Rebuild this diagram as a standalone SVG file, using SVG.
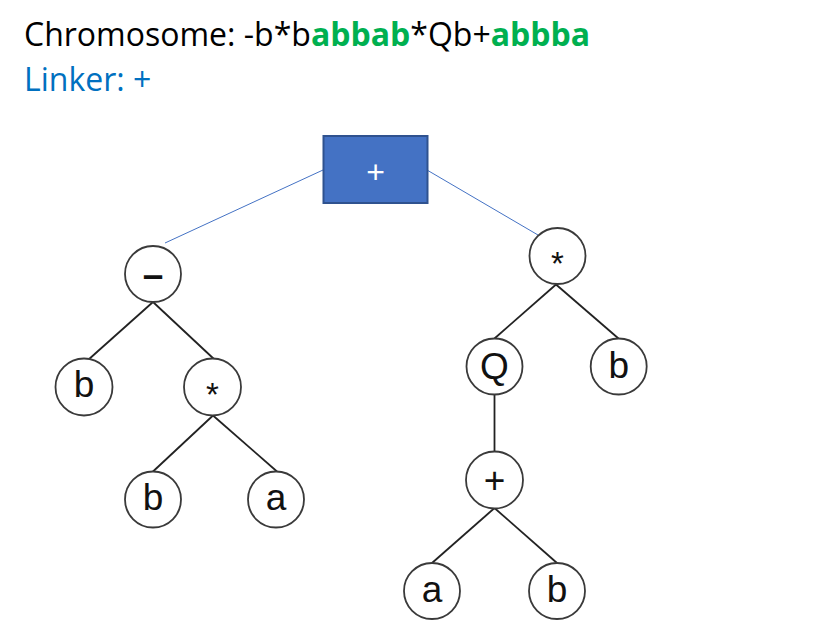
<svg xmlns="http://www.w3.org/2000/svg" width="836" height="632" viewBox="0 0 836 632">
<style>
.hdr{font-family:"Open Sans","Noto Sans",sans-serif;font-size:32px}
.g{fill:#00B050;font-weight:bold}
.nd{fill:#fff;stroke:#3a3a3a;stroke-width:1.8}
.lb{font-family:"Liberation Sans",Arial,sans-serif;font-size:37px;fill:#111;text-anchor:middle}
.st{font-size:33px}
.edge{stroke:#222;stroke-width:1.8;fill:none}
.link{stroke:#4472C4;stroke-width:1;fill:none}
</style>
<rect width="836" height="632" fill="#fff"/>
<text class="hdr" x="24" y="46" fill="#000">Chromosome: -b*b<tspan class="g">abbab</tspan>*Qb+<tspan class="g">abbba</tspan></text>
<text class="hdr" x="24" y="91" fill="#0070C0">Linker: +</text>
<g id="connectors">
<line class="link" x1="323" y1="170" x2="165" y2="243"/>
<line class="link" x1="427" y1="170" x2="538" y2="235"/>
<line class="edge" x1="153" y1="302" x2="88" y2="360"/>
<line class="edge" x1="153" y1="302" x2="215" y2="360"/>
<line class="edge" x1="213" y1="415.5" x2="153" y2="471.5"/>
<line class="edge" x1="213" y1="415.5" x2="277" y2="471.5"/>
<line class="edge" x1="556" y1="284.5" x2="494.5" y2="338.5"/>
<line class="edge" x1="556" y1="284.5" x2="618.5" y2="338.5"/>
<line class="edge" x1="494.5" y1="395" x2="494.5" y2="452"/>
<line class="edge" x1="494.5" y1="508" x2="432" y2="563"/>
<line class="edge" x1="494.5" y1="508" x2="557" y2="563"/>
</g>
<g id="linker">
<rect x="323.5" y="136" width="104" height="67" fill="#4472C4" stroke="#2F528F" stroke-width="2"/>
<text x="375.5" y="183" font-family="Liberation Sans,Arial,sans-serif" font-size="32" fill="#fff" text-anchor="middle">+</text>
</g>
<g id="n_minus"><circle class="nd" cx="153" cy="274" r="28"/><text class="lb" x="153" y="287" font-size="50" font-weight="bold">–</text></g>
<g id="n_b1"><circle class="nd" cx="84" cy="387" r="28.5"/><text class="lb" x="84" y="397">b</text></g>
<g id="n_star1"><circle class="nd" cx="212.5" cy="387" r="28.5"/><text class="lb st" x="212.5" y="406">*</text></g>
<g id="n_b2"><circle class="nd" cx="153" cy="499.5" r="28"/><text class="lb" x="153" y="510">b</text></g>
<g id="n_a1"><circle class="nd" cx="276" cy="499.5" r="28"/><text class="lb" x="276" y="510">a</text></g>
<g id="n_star2"><circle class="nd" cx="557.5" cy="256" r="28"/><text class="lb st" x="557.5" y="275">*</text></g>
<g id="n_Q"><circle class="nd" cx="494.5" cy="366.5" r="28"/><text class="lb" x="494.5" y="379">Q</text></g>
<g id="n_b3"><circle class="nd" cx="618.7" cy="366.5" r="28"/><text class="lb" x="618.7" y="377.5">b</text></g>
<g id="n_plus"><circle class="nd" cx="494.5" cy="480" r="28.5"/><text class="lb" x="494.5" y="493" font-size="36">+</text></g>
<g id="n_a2"><circle class="nd" cx="432" cy="591" r="28"/><text class="lb" x="432" y="602">a</text></g>
<g id="n_b4"><circle class="nd" cx="557" cy="591" r="28"/><text class="lb" x="557" y="602">b</text></g>
</svg>
